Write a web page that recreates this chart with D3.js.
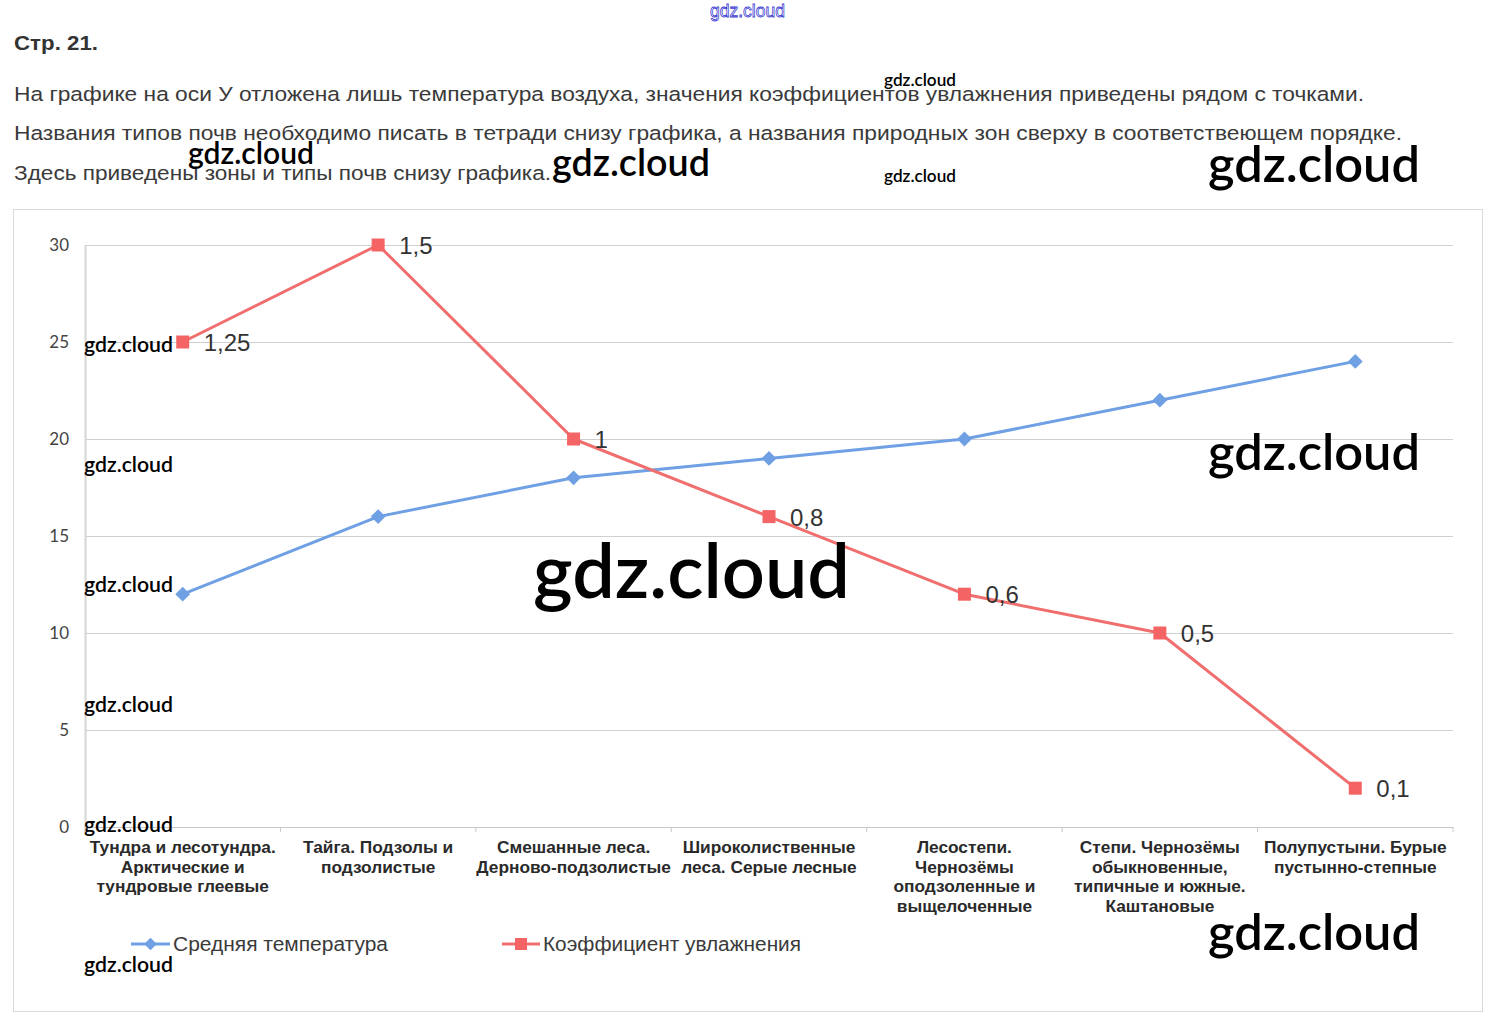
<!DOCTYPE html>
<html>
<head>
<meta charset="utf-8">
<script src="https://cdn.jsdelivr.net/npm/d3@7"></script>
<style>
  html, body { margin: 0; padding: 0; background: #fff; }
  svg { display: block; }
</style>
</head>
<body>
<svg id="page" width="1495" height="1025"></svg>
<script>
// Natural zones with their soil types (x categories)
const categories = [
  "Тундра и лесотундра. Арктические и тундровые глеевые",
  "Тайга. Подзолы и подзолистые",
  "Смешанные леса. Дерново-подзолистые",
  "Широколиственные леса. Серые лесные",
  "Лесостепи. Чернозёмы оподзоленные и выщелоченные",
  "Степи.  Чернозёмы обыкновенные, типичные и южные. Каштановые",
  "Полупустыни. Бурые пустынно-степные"
];
// Category labels broken into lines
const categoryLines = [
  ["Тундра и лесотундра.", "Арктические и", "тундровые глеевые"],
  ["Тайга. Подзолы и", "подзолистые"],
  ["Смешанные леса.", "Дерново-подзолистые"],
  ["Широколиственные", "леса. Серые лесные"],
  ["Лесостепи.", "Чернозёмы", "оподзоленные и", "выщелоченные"],
  ["Степи.  Чернозёмы", "обыкновенные,", "типичные и южные.", "Каштановые"],
  ["Полупустыни. Бурые", "пустынно-степные"]
];
// Average temperature
const temperature = [12, 16, 18, 19, 20, 22, 24];
// Moisture coefficient
const moisture = [1.25, 1.5, 1, 0.8, 0.6, 0.5, 0.1];
const moistureLabels = ["1,25", "1,5", "1", "0,8", "0,6", "0,5", "0,1"];
const yTicks = [0, 5, 10, 15, 20, 25, 30];
const seriesNames = ["Средняя температура", "Коэффициент увлажнения"];

const headerTitle = "Стр. 21.";
const headerLines = [
  "На графике на оси У отложена лишь температура воздуха, значения коэффициентов увлажнения приведены рядом с точками.",
  "Названия типов почв необходимо писать в тетради снизу графика, а названия природных зон сверху в соответствеющем порядке.",
  "Здесь приведены зоны и типы почв снизу графика."
];

const BLUE = "#6fa0e4";
const RED = "#f06e6e";
const RED_MARK = "#f46464";

const svg = d3.select("#page");

// ---- header text ----
svg.append("text")
  .attr("x", 14).attr("y", 50)
  .attr("font-family", "Liberation Sans, Arial, sans-serif")
  .attr("font-weight", "bold").attr("font-size", 20)
  .attr("fill", "#333")
  .attr("textLength", 84).attr("lengthAdjust", "spacingAndGlyphs")
  .text(headerTitle);

const headerWidths = [1350, 1388, 537];
const headerBase = [101, 140, 180];
headerLines.forEach((t, i) => {
  svg.append("text")
    .attr("x", 14).attr("y", headerBase[i])
    .attr("font-family", "Liberation Sans, Arial, sans-serif")
    .attr("font-size", 20.5)
    .attr("fill", "#3a3a3a")
    .attr("textLength", headerWidths[i]).attr("lengthAdjust", "spacingAndGlyphs")
    .text(t);
});

// ---- chart frame ----
svg.append("rect")
  .attr("x", 13.5).attr("y", 209.5)
  .attr("width", 1469).attr("height", 802)
  .attr("fill", "none").attr("stroke", "#d9d9d9").attr("stroke-width", 1);

const plot = { left: 85, right: 1453, top: 245, bottom: 827 };

const x = d3.scaleBand().domain(categories).range([plot.left, plot.right]);
const cx = c => x(c) + x.bandwidth() / 2;
const y = d3.scaleLinear().domain([0, 30]).range([plot.bottom, plot.top]);
// moisture coefficient drawn against the temperature axis (1.5 ↔ 30)
const coefToAxis = d3.scaleLinear().domain([0, 1.5]).range([0, 30]);

// y axis with gridlines
const yAxis = svg.append("g")
  .attr("transform", `translate(${plot.left},0)`)
  .call(d3.axisLeft(y).tickValues(yTicks).tickSize(-(plot.right - plot.left)).tickPadding(16));
yAxis.select(".domain").remove();
yAxis.selectAll(".tick line").attr("stroke", "#cfcfcf").attr("stroke-width", 1);
yAxis.selectAll(".tick text")
  .attr("font-family", "Lato, sans-serif").attr("font-size", 17).attr("fill", "#444");

// vertical axis line
svg.append("line")
  .attr("x1", plot.left + 0.5).attr("x2", plot.left + 0.5)
  .attr("y1", plot.top).attr("y2", plot.bottom)
  .attr("stroke", "#d6d6d6").attr("stroke-width", 2);

// category axis
const xAxis = svg.append("g")
  .attr("transform", `translate(0,${plot.bottom})`)
  .call(d3.axisBottom(x).tickSize(0).tickFormat(""));
xAxis.select(".domain").attr("stroke", "#c8c8c8");
xAxis.selectAll(".tick").remove();

// boundary ticks between categories
const boundaries = d3.range(categories.length + 1).map(i => plot.left + i * x.step());
svg.append("g").selectAll("line").data(boundaries).join("line")
  .attr("x1", d => d).attr("x2", d => d)
  .attr("y1", plot.bottom).attr("y2", plot.bottom + 5)
  .attr("stroke", "#c8c8c8");

// category labels
const catG = svg.append("g")
  .attr("font-family", "Liberation Sans, Arial, sans-serif")
  .attr("font-weight", "bold").attr("font-size", 16)
  .attr("fill", "#2a2a2a").attr("text-anchor", "middle");
const catTexts = [];
categoryLines.forEach((lines, i) => {
  lines.forEach((ln, j) => {
    const t = catG.append("text")
      .attr("x", cx(categories[i]))
      .attr("y", 853 + j * 19.5)
      .text(ln);
    catTexts.push(t);
  });
});
// narrow the labels to the condensed face width
const refNode = catTexts[0].node();
const ratio = 186 / refNode.getComputedTextLength();
catTexts.forEach(t => {
  const w = t.node().getComputedTextLength();
  t.attr("textLength", w * ratio).attr("lengthAdjust", "spacingAndGlyphs");
});

// ---- series ----
const tempPts = temperature.map((v, i) => [cx(categories[i]), y(v)]);
const coefPts = moisture.map((v, i) => [cx(categories[i]), y(coefToAxis(v))]);
const line = d3.line();

svg.append("path").attr("d", line(tempPts))
  .attr("fill", "none").attr("stroke", BLUE).attr("stroke-width", 3).attr("stroke-linejoin", "round");
svg.append("g").selectAll("path").data(tempPts).join("path")
  .attr("d", d3.symbol(d3.symbolDiamond2, 140)())
  .attr("transform", d => `translate(${d[0]},${d[1]})`)
  .attr("fill", BLUE);

svg.append("path").attr("d", line(coefPts))
  .attr("fill", "none").attr("stroke", RED).attr("stroke-width", 3).attr("stroke-linejoin", "round");
svg.append("g").selectAll("rect").data(coefPts).join("rect")
  .attr("x", d => d[0] - 6.5).attr("y", d => d[1] - 6.5)
  .attr("width", 13).attr("height", 13)
  .attr("fill", RED_MARK);

svg.append("g").selectAll("text").data(coefPts).join("text")
  .attr("x", d => d[0] + 21).attr("y", d => d[1] + 9)
  .attr("font-family", "Liberation Sans, Arial, sans-serif")
  .attr("font-size", 24).attr("fill", "#333")
  .text((d, i) => moistureLabels[i]);

// ---- legend ----
const legend = svg.append("g");
const legendItems = [
  { name: seriesNames[0], x1: 131, x2: 170, color: BLUE, kind: "diamond", tx: 173, w: 215 },
  { name: seriesNames[1], x1: 502, x2: 540, color: RED, kind: "square", tx: 543, w: 258 }
];
legendItems.forEach(it => {
  legend.append("line")
    .attr("x1", it.x1).attr("x2", it.x2).attr("y1", 944).attr("y2", 944)
    .attr("stroke", it.color).attr("stroke-width", 3);
  const mx = (it.x1 + it.x2) / 2;
  if (it.kind === "diamond") {
    legend.append("path").attr("d", d3.symbol(d3.symbolDiamond2, 100)())
      .attr("transform", `translate(${mx},944)`).attr("fill", it.color);
  } else {
    legend.append("rect").attr("x", mx - 6).attr("y", 938).attr("width", 12).attr("height", 12)
      .attr("fill", RED_MARK);
  }
  legend.append("text")
    .attr("x", it.tx).attr("y", 951)
    .attr("font-family", "Liberation Sans, Arial, sans-serif")
    .attr("font-size", 20).attr("fill", "#3a3a3a")
    .attr("textLength", it.w).attr("lengthAdjust", "spacingAndGlyphs")
    .text(it.name);
});

// ---- site marks ----
const marks = [
  { x: 884, y: 86, w: 72, s: 17 },
  { x: 884, y: 182, w: 72, s: 17 },
  { x: 188, y: 164, w: 126, s: 30 },
  { x: 552, y: 176, w: 158, s: 38 },
  { x: 1208, y: 182, w: 212, s: 50 },
  { x: 1208, y: 470, w: 212, s: 50 },
  { x: 1208, y: 950, w: 212, s: 50 },
  { x: 533, y: 598, w: 317, s: 75 },
  { x: 84, y: 352, w: 89, s: 21 },
  { x: 84, y: 472, w: 89, s: 21 },
  { x: 84, y: 592, w: 89, s: 21 },
  { x: 84, y: 712, w: 89, s: 21 },
  { x: 84, y: 832, w: 89, s: 21 },
  { x: 84, y: 972, w: 89, s: 21 }
];
svg.append("g").selectAll("text").data(marks).join("text")
  .attr("x", d => d.x).attr("y", d => d.y)
  .attr("font-family", "Lato, sans-serif").attr("font-weight", 600)
  .attr("font-size", d => d.s)
  .attr("fill", "#000")
  .attr("textLength", d => d.w).attr("lengthAdjust", "spacingAndGlyphs")
  .text("gdz.cloud");

svg.append("text")
  .attr("x", 710).attr("y", 17)
  .attr("font-family", "Liberation Sans, Arial, sans-serif").attr("font-size", 19)
  .attr("fill", "#fff").attr("stroke", "#3a3ad0").attr("stroke-width", 0.8)
  .attr("textLength", 75).attr("lengthAdjust", "spacingAndGlyphs")
  .text("gdz.cloud");
</script>
</body>
</html>
